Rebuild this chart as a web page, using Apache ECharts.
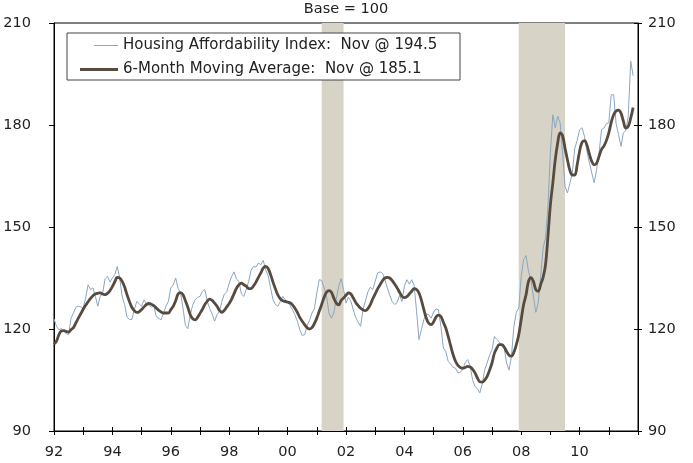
<!DOCTYPE html>
<html>
<head>
<meta charset="utf-8">
<script src="https://cdn.jsdelivr.net/npm/echarts@6/dist/echarts.min.js"></script>
<style>
  html, body { margin: 0; padding: 0; background: #fff; }
  #chart { width: 693px; height: 463px; }
</style>
</head>
<body>
<div id="chart"></div>
<script>
// monthly, Jan 1992 .. Nov 2011
const startYear = 1992;
const indexValues = [
  123.0,120.8,119.8,120.1,119.3,118.7,118.3,123.2,124.7,126.4,126.7,126.5,
  126.2,129.1,133.0,131.6,132.1,129.6,126.7,129.6,130.6,134.8,135.5,133.8,
  135.0,136.0,138.4,135.0,129.6,127.2,123.5,122.8,122.8,125.7,128.1,127.4,
  126.7,128.6,127.4,127.2,126.4,127.0,123.7,123.2,122.7,124.7,126.7,128.1,
  132.1,133.0,135.0,131.9,130.6,126.2,121.1,120.1,124.2,127.0,128.6,129.3,
  129.6,131.1,131.6,128.1,126.0,124.4,122.3,124.2,125.2,128.1,130.3,130.9,
  133.5,135.5,136.8,134.7,134.0,130.3,129.6,131.6,134.0,137.3,138.4,138.2,
  139.4,138.9,140.2,137.4,135.7,132.1,128.6,127.2,126.7,128.1,129.6,128.6,
  128.0,126.9,125.7,124.2,122.3,119.8,118.1,118.3,121.0,122.5,124.7,125.9,
  130.6,134.5,134.3,132.1,129.6,124.7,123.2,124.7,128.8,132.6,134.8,131.6,
  127.6,129.4,128.1,125.7,123.4,122.0,120.8,125.7,128.3,130.9,132.3,131.6,
  134.0,136.5,136.8,136.4,134.5,132.1,129.9,128.0,127.2,127.8,129.9,128.1,
  132.6,134.5,133.2,134.5,132.8,125.2,116.9,119.8,122.8,124.4,124.2,123.2,
  125.0,125.9,125.7,120.8,114.4,113.4,110.5,109.7,108.7,108.5,107.1,107.3,
  108.2,110.2,111.0,109.2,105.1,103.1,102.5,101.2,103.9,108.0,110.0,112.3,
  113.9,117.8,116.9,116.2,114.9,114.4,110.0,107.9,112.0,120.8,124.9,126.2,
  135.5,140.4,141.6,137.0,134.5,129.6,124.9,127.7,135.5,143.8,146.8,156.1,
  171.8,183.0,179.1,182.6,180.6,171.8,162.0,160.0,162.8,165.9,173.0,175.5,
  178.6,179.2,176.7,172.3,169.0,165.9,163.0,166.9,171.8,178.6,179.1,180.4,
  180.6,188.9,188.9,180.4,177.2,173.7,177.7,178.4,182.6,198.8,194.5
];
const movingAvg = [
  115.6,116.4,118.3,119.4,119.5,119.3,119.1,119.8,120.4,121.8,123.2,124.5,
  125.8,127.0,128.0,129.0,129.8,130.3,130.5,130.6,130.3,130.1,130.5,131.3,
  132.5,133.9,135.2,135.0,134.0,132.4,130.1,128.1,126.4,125.4,124.9,125.1,
  125.7,126.5,127.2,127.5,127.3,126.9,126.2,125.5,125.0,124.7,124.7,124.7,
  125.7,126.7,128.3,130.3,130.7,130.1,128.3,126.4,124.2,123.0,122.7,123.4,
  124.6,125.8,127.2,128.2,128.8,128.4,127.6,126.7,125.5,124.9,125.5,126.5,
  127.5,128.8,130.4,132.0,133.0,133.5,133.0,132.6,131.9,131.9,132.7,133.8,
  135.2,136.5,137.9,138.4,137.8,136.0,133.8,131.8,130.0,128.9,128.3,128.1,
  127.9,127.7,127.1,126.1,124.9,123.4,122.3,121.3,120.4,120.0,120.4,121.6,
  123.2,125.2,127.2,129.3,130.8,131.3,130.8,129.1,127.6,127.1,128.4,129.1,
  129.9,130.6,130.3,129.1,127.8,126.9,126.1,125.6,125.4,126.0,127.2,128.9,
  130.3,131.8,133.0,134.2,135.0,135.2,135.0,134.2,133.2,132.1,130.8,129.6,
  129.2,129.5,130.3,131.1,131.9,131.6,130.6,128.4,125.7,123.2,121.7,121.3,
  122.1,123.5,124.1,123.7,122.0,120.3,117.8,115.1,112.5,110.5,109.3,108.7,
  108.5,108.7,109.0,108.8,108.2,107.1,105.6,104.5,104.4,105.0,106.1,107.9,
  110.0,112.9,114.4,115.4,115.4,114.7,113.4,112.3,112.0,113.2,115.4,118.3,
  122.8,127.2,130.1,134.0,135.1,134.0,131.6,131.1,133.1,135.2,138.9,147.3,
  156.6,163.0,169.8,174.7,177.7,176.9,173.2,169.8,166.7,165.3,165.3,168.3,
  172.3,174.9,175.4,174.1,171.5,169.3,168.3,168.8,170.8,172.8,173.8,175.4,
  177.7,180.8,183.0,184.1,184.4,183.5,181.1,179.1,179.6,182.0,185.1
];
// recession periods [start, end] in fractional years
const recessions = [
  [2001 + 2 / 12, 2001 + 11 / 12],
  [2007 + 11 / 12, 2009 + 6 / 12]
];
const yTicks = { min: 90, max: 210, step: 30 };
const xRange = { min: 1992, max: 2012 };

const indexName = "Housing Affordability Index:  Nov @ 194.5";
const maName = "6-Month Moving Average:  Nov @ 185.1";

const toPairs = (arr) => arr.map((v, i) => [startYear + i / 12, v]);

const font = "DejaVu Sans";
const txt = "#222";
const chart = echarts.init(document.getElementById("chart"));

const baseY = {
  type: "value",
  min: yTicks.min,
  max: yTicks.max,
  interval: yTicks.step,
  splitLine: { show: false },
  axisLine: { show: true, lineStyle: { color: "#000", width: 1 } },
};

chart.setOption({
  animation: false,
  title: {
    text: "Base = 100",
    left: 346,
    textAlign: "center",
    top: 2,
    padding: 0,
    textStyle: { fontFamily: font, fontSize: 14.5, fontWeight: 400, color: txt },
  },
  grid: {
    left: 54,
    right: 55,
    top: 23,
    bottom: 32,
    show: true,
    borderColor: "#000",
    borderWidth: 1,
    backgroundColor: "transparent",
  },
  graphic: [
    {
      type: "rect",
      z: 20,
      shape: { x: 67, y: 33, width: 393, height: 47 },
      style: { fill: "#fff", stroke: "#444", lineWidth: 1 },
    },
  ],
  legend: [
    {
      z: 30,
      left: 94,
      top: 38,
      padding: 0,
      icon: "rect",
      itemWidth: 24,
      itemHeight: 1,
      textStyle: { fontFamily: font, fontSize: 15, color: txt },
      data: [indexName],
    },
    {
      z: 30,
      left: 80,
      top: 62,
      padding: 0,
      icon: "rect",
      itemWidth: 38,
      itemHeight: 3,
      textStyle: { fontFamily: font, fontSize: 15, color: txt },
      data: [maName],
    },
  ],
  xAxis: [
    {
      type: "value",
      min: xRange.min,
      max: xRange.max,
      interval: 1,
      splitLine: { show: false },
      axisLine: { lineStyle: { color: "#000", width: 1 } },
      axisTick: { length: 4, lineStyle: { color: "#000" } },
      axisLabel: {
        margin: 14,
        fontFamily: font,
        fontSize: 14.5,
        color: txt,
        formatter: (v) => (v % 2 === 0 && v < xRange.max ? String(v).slice(2) : ""),
      },
    },
    {
      type: "value",
      position: "bottom",
      min: xRange.min,
      max: xRange.max,
      interval: 1,
      splitLine: { show: false },
      axisLine: { show: false },
      axisTick: { inside: true, length: 4, lineStyle: { color: "#000" } },
      axisLabel: { show: false },
    },
  ],
  yAxis: [
    Object.assign({}, baseY, {
      position: "left",
      axisTick: { length: 5, lineStyle: { color: "#000" } },
      axisLabel: { margin: 23, fontFamily: font, fontSize: 14.5, color: txt },
    }),
    Object.assign({}, baseY, {
      position: "right",
      axisTick: { length: 4, lineStyle: { color: "#000" } },
      axisLabel: { margin: 10, fontFamily: font, fontSize: 14.5, color: txt },
    }),
    Object.assign({}, baseY, {
      position: "right",
      axisLine: { show: false },
      axisTick: { inside: true, length: 4, lineStyle: { color: "#000" } },
      axisLabel: { show: false },
    }),
  ],
  series: [
    {
      name: indexName,
      type: "line",
      data: toPairs(indexValues),
      symbol: "none",
      lineStyle: { color: "#8aa6c1", width: 1 },
      itemStyle: { color: "#8aa6c1" },
      markArea: {
        silent: true,
        itemStyle: { color: "#d7d3c7", opacity: 1 },
        data: recessions.map((r) => [{ xAxis: r[0] }, { xAxis: r[1] }]),
      },
    },
    {
      name: maName,
      type: "line",
      data: toPairs(movingAvg),
      symbol: "none",
      smooth: 0.4,
      lineStyle: { color: "#574a3f", width: 2.8 },
      itemStyle: { color: "#574a3f" },
    },
  ],
});
</script>
</body>
</html>
